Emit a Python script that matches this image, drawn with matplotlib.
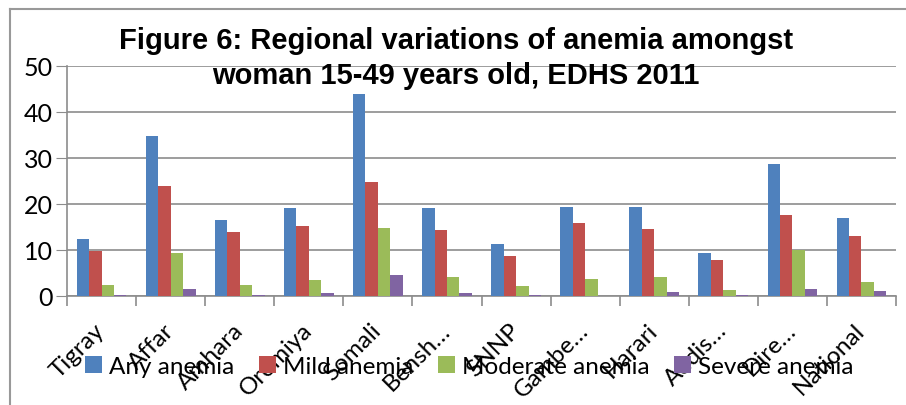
import numpy as np
import matplotlib.pyplot as plt
from matplotlib.lines import Line2D

regions = ['Tigray', 'Affar', 'Amhara', 'Oromiya', 'Somali', 'Bensh…', 'SNNP',
           'Gambe…', 'Harari', 'Addis…', 'Dire…', 'National']
any_anemia = [12.4, 34.8, 16.6, 19.2, 44.0, 19.2, 11.3, 19.4, 19.4, 9.4, 28.8, 17.0]
mild_anemia = [9.7, 24.0, 13.9, 15.3, 24.8, 14.3, 8.8, 15.8, 14.5, 7.9, 17.5, 13.1]
moderate_anemia = [2.3, 9.4, 2.4, 3.4, 14.8, 4.2, 2.1, 3.6, 4.2, 1.3, 10.0, 3.1]
severe_anemia = [0.3, 1.5, 0.3, 0.6, 4.6, 0.6, 0.3, 0.1, 0.8, 0.3, 1.5, 1.1]

series = [('Any anemia', any_anemia, '#4F81BD'),
          ('Mild anemia', mild_anemia, '#C0504D'),
          ('Moderate anemia', moderate_anemia, '#9BBB59'),
          ('Severe anemia', severe_anemia, '#8064A2')]

plt.rcParams['font.family'] = ['Lato', 'DejaVu Sans']

fig = plt.figure(figsize=(9.06, 4.06), dpi=100)
ax = fig.add_axes([0.074, 0.2685, 0.915, 0.5665])

x = np.arange(len(regions))
w = 0.18
for i, (name, vals, col) in enumerate(series):
    ax.bar(x + (i - 1.5) * w, vals, width=w, color=col, label=name, zorder=3)

ax.set_xlim(-0.5, len(regions) - 0.5)
ax.set_ylim(0, 50)
ax.set_yticks(range(0, 51, 10))
ax.grid(axis='y', color='#8c8c8c', linewidth=1.2, zorder=0)
ax.tick_params(axis='y', labelsize=18, length=8, color='#8c8c8c', pad=2)

ax.set_xticks(x)
ax.set_xticklabels(regions, rotation=45, ha='right', va='center',
                   rotation_mode='anchor', fontsize=17.5)
ax.tick_params(axis='x', which='major', length=0, pad=22)
ax.set_xticks(np.arange(-0.5, len(regions)), minor=True)
ax.tick_params(axis='x', which='minor', length=7, color='#8c8c8c', width=1.2)

for s in ['top', 'right']:
    ax.spines[s].set_visible(False)
for s in ['left', 'bottom']:
    ax.spines[s].set_color('#8c8c8c')
    ax.spines[s].set_linewidth(1.2)

fig.text(0.503, 0.856, 'Figure 6: Regional variations of anemia amongst\nwoman 15-49 years old, EDHS 2011',
         ha='center', va='center', fontsize=21, fontweight='bold',
         family='Liberation Sans', linespacing=1.3)

fig.legend(loc='center', bbox_to_anchor=(0.518, 0.094), ncol=4, frameon=False,
           fontsize=17.5, handlelength=0.7, handleheight=0.7, handletextpad=0.3,
           columnspacing=1.0)

# chart area border
fig.add_artist(Line2D([10 / 906, 10 / 906], [0, 1 - 10 / 406], color='#999999', lw=1.5))
fig.add_artist(Line2D([10 / 906, 1], [1 - 10 / 406, 1 - 10 / 406], color='#999999', lw=1.5))

fig.savefig('out.png', dpi=100)
